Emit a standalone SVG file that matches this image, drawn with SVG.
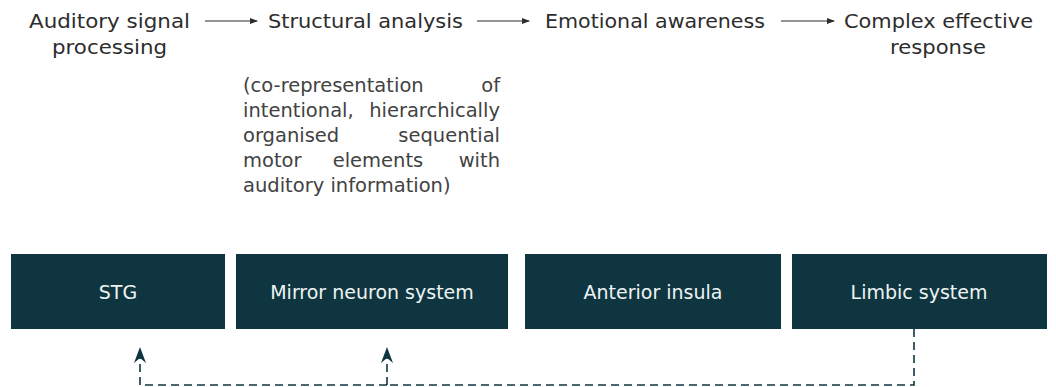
<svg xmlns="http://www.w3.org/2000/svg" width="1056" height="387" viewBox="0 0 1056 387">
  <style>
    .stage { font-family: "DejaVu Sans", "Open Sans", sans-serif; font-size: 19.5px; fill: #2d2d2d; }
    .note { font-family: "DejaVu Sans", "Open Sans", sans-serif; font-size: 19.5px; fill: #424242; }
    .box { fill: #0f3640; }
    .label { font-family: "DejaVu Sans", "Open Sans", sans-serif; font-size: 19px; fill: #eef3f4; text-anchor: middle; dominant-baseline: central; }
    .flow { stroke: #2d2d2d; stroke-width: 1.2; fill: none; }
    .link { stroke: #0f3640; stroke-width: 1.6; fill: none; stroke-dasharray: 8 5; }
  </style>
  <defs>
    <marker id="tri" viewBox="0 0 8 8" refX="7" refY="4" markerWidth="8" markerHeight="8" markerUnits="userSpaceOnUse" orient="auto">
      <path d="M0,1 L8,4 L0,7 z" fill="#2d2d2d"/>
    </marker>
    <marker id="barb" viewBox="0 0 16 12" refX="15" refY="6" markerWidth="16" markerHeight="12" markerUnits="userSpaceOnUse" orient="auto">
      <path d="M0,0 L16,6 L0,12 L5,6 z" fill="#0f3640"/>
    </marker>
  </defs>

  <!-- processing stages along the top -->
  <g id="stages">
    <text class="stage" x="29" y="28" textLength="161" lengthAdjust="spacingAndGlyphs">Auditory signal</text>
    <text class="stage" x="52" y="54" textLength="115" lengthAdjust="spacingAndGlyphs">processing</text>
    <text class="stage" x="268" y="28" textLength="195" lengthAdjust="spacingAndGlyphs">Structural analysis</text>
    <text class="stage" x="545" y="28" textLength="220" lengthAdjust="spacingAndGlyphs">Emotional awareness</text>
    <text class="stage" x="844" y="28" textLength="189" lengthAdjust="spacingAndGlyphs">Complex effective</text>
    <text class="stage" x="890" y="54" textLength="96" lengthAdjust="spacingAndGlyphs">response</text>
  </g>

  <g id="stage-arrows">
    <line class="flow" x1="205" y1="21" x2="257" y2="21" marker-end="url(#tri)"/>
    <line class="flow" x1="477" y1="21" x2="529" y2="21" marker-end="url(#tri)"/>
    <line class="flow" x1="781" y1="21" x2="834" y2="21" marker-end="url(#tri)"/>
  </g>

  <!-- justified note under structural analysis -->
  <g id="note">
    <text class="note" x="243" y="92">(co-representation</text>
    <text class="note" x="500" y="92" text-anchor="end">of</text>
    <text class="note" x="243" y="117">intentional,</text>
    <text class="note" x="500" y="117" text-anchor="end">hierarchically</text>
    <text class="note" x="243" y="142">organised</text>
    <text class="note" x="500" y="142" text-anchor="end">sequential</text>
    <text class="note" x="243" y="167">motor</text>
    <text class="note" x="378" y="167" text-anchor="middle">elements</text>
    <text class="note" x="500" y="167" text-anchor="end">with</text>
    <text class="note" x="243" y="192">auditory information)</text>
  </g>

  <!-- brain regions -->
  <g id="stg">
    <rect class="box" x="11" y="254" width="214" height="75"/>
    <text class="label" x="118" y="291.5">STG</text>
  </g>
  <g id="mirror-neuron-system">
    <rect class="box" x="236" y="254" width="272" height="75"/>
    <text class="label" x="372" y="291.5">Mirror neuron system</text>
  </g>
  <g id="anterior-insula">
    <rect class="box" x="525" y="254" width="256" height="75"/>
    <text class="label" x="653" y="291.5">Anterior insula</text>
  </g>
  <g id="limbic-system">
    <rect class="box" x="792" y="254" width="255" height="75"/>
    <text class="label" x="919" y="291.5">Limbic system</text>
  </g>

  <!-- feedback from the limbic system -->
  <g id="connectors">
    <path class="link" d="M914,329 V385 H387"/>
    <path class="link" d="M387,385 H140"/>
    <line class="link" x1="140" y1="385" x2="140" y2="348" marker-end="url(#barb)"/>
    <line class="link" x1="387" y1="385" x2="387" y2="348" marker-end="url(#barb)"/>
  </g>
</svg>
